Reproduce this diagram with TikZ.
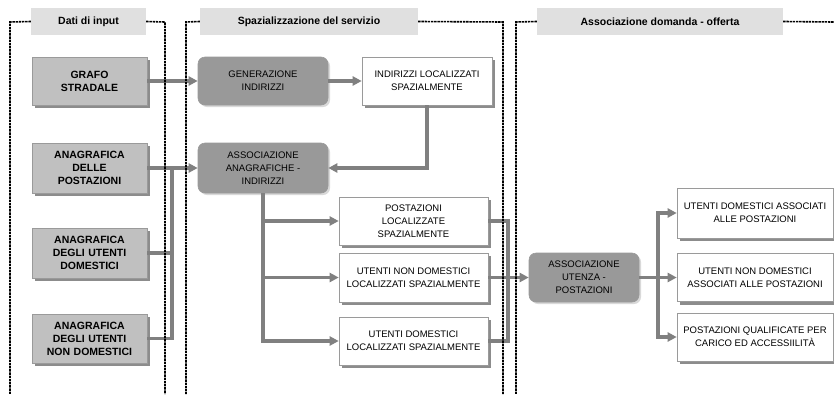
\documentclass[tikz,border=0pt]{standalone}
\usepackage{fontspec}
\setmainfont{Liberation Sans}
\usetikzlibrary{arrows.meta,shadows}
\definecolor{conngray}{HTML}{808080}
\definecolor{ingray}{HTML}{C0C0C0}
\definecolor{procgray}{HTML}{999999}
\definecolor{titlegray}{HTML}{E0E0E0}
\definecolor{shadowgray}{HTML}{8C8C8C}
\definecolor{bordergray}{HTML}{9A9A9A}
\tikzset{
  frameline/.style={draw=black, line width=1.6pt, dash pattern=on 2.4pt off 0.8pt},
  titlebox/.style={fill=titlegray, inner sep=0pt, font=\fontsize{10.5}{13}\selectfont\bfseries},
  inbox/.style={draw=bordergray, line width=0.6pt, fill=ingray, inner sep=2pt, align=center,
    minimum width=115pt, text width=110pt,
    font=\fontsize{10.5}{13}\selectfont\bfseries,
    drop shadow={shadow xshift=3pt, shadow yshift=-3pt, fill=shadowgray, opacity=1}},
  procbox/.style={draw=bordergray, line width=0.6pt, fill=procgray, rounded corners=7pt, inner sep=2pt, align=center,
    font=\fontsize{9.5}{13}\selectfont,
    drop shadow={shadow xshift=2pt, shadow yshift=-2pt, fill=black!15, opacity=1}},
  outbox/.style={draw=bordergray, line width=0.6pt, fill=white, inner sep=2pt, align=center,
    font=\fontsize{9.5}{13}\selectfont,
    drop shadow={shadow xshift=3pt, shadow yshift=-3pt, fill=shadowgray, opacity=1}},
  conn/.style={draw=conngray, line width=3.2pt, -{Triangle[length=9pt,width=9pt]}},
  plainconn/.style={draw=conngray, line width=3.2pt},
}
\begin{document}
\begin{tikzpicture}[x=1pt,y=-1pt]
\useasboundingbox (0,0) rectangle (834,394);

% title boxes
\node[titlebox, minimum width=115pt, minimum height=27pt] (t1) at (88.5,21.5) {Dati di input};
\node[titlebox, minimum width=218pt, minimum height=27pt] (t2) at (309,21.5) {Spazializzazione del servizio};
\node[titlebox, minimum width=246pt, minimum height=27pt] (t3) at (660,21.5) {Associazione domanda - offerta};

% input boxes
\node[inbox, minimum height=48pt] (gs) at (89.5,81) {GRAFO\\STRADALE};
\node[inbox, minimum height=50pt] (ap) at (89.5,168) {ANAGRAFICA\\DELLE\\POSTAZIONI};
\node[inbox, minimum height=50pt] (ad) at (89.5,253) {ANAGRAFICA\\DEGLI UTENTI\\DOMESTICI};
\node[inbox, minimum height=49pt] (an) at (89.5,338.5) {ANAGRAFICA\\DEGLI UTENTI\\NON DOMESTICI};

% middle column
\node[procbox, minimum width=130pt, minimum height=48pt] (gi) at (263,81) {GENERAZIONE\\INDIRIZZI};
\node[outbox, minimum width=130pt, minimum height=48pt] (il) at (427,81) {INDIRIZZI LOCALIZZATI\\SPAZIALMENTE};
\node[procbox, minimum width=130pt, minimum height=50pt] (aa) at (263,168) {ASSOCIAZIONE\\ANAGRAFICHE -\\INDIRIZZI};
\node[outbox, minimum width=149pt, minimum height=48pt] (pl) at (413.5,221) {POSTAZIONI\\LOCALIZZATE\\SPAZIALMENTE};
\node[outbox, minimum width=149pt, minimum height=49pt] (unl) at (413.5,277.5) {UTENTI NON DOMESTICI\\LOCALIZZATI SPAZIALMENTE};
\node[outbox, minimum width=149pt, minimum height=48pt] (udl) at (413.5,341) {UTENTI DOMESTICI\\LOCALIZZATI SPAZIALMENTE};

% right column
\node[procbox, minimum width=110pt, minimum height=49pt] (au) at (584,277.5) {ASSOCIAZIONE\\UTENZA -\\POSTAZIONI};
\node[outbox, minimum width=156pt, minimum height=50pt] (r1) at (755,213) {UTENTI DOMESTICI ASSOCIATI\\ALLE POSTAZIONI};
\node[outbox, minimum width=156pt, minimum height=48pt] (r2) at (755,277.5) {UTENTI NON DOMESTICI\\ASSOCIATI ALLE POSTAZIONI};
\node[outbox, minimum width=156pt, minimum height=48pt] (r3) at (755,337) {POSTAZIONI QUALIFICATE PER\\CARICO ED ACCESSIILITÀ};

% bus coordinates
\coordinate (b1) at (172,168);
\coordinate (b2) at (508,277.5);
\coordinate (b3) at (658,277.5);

% connectors
\draw[conn] (gs.east) -- (gi.west);
\draw[conn] (gi.east) -- (il.west);
\draw[conn] (il.south) |- (aa.east);
\draw[conn] (ap.east) -- (aa.west);
\draw[plainconn] (ad.east) -| (b1);
\draw[plainconn] (an.east) -| (b1);
\draw[conn] (aa.south) |- (pl.west);
\draw[conn] (aa.south) |- (unl.west);
\draw[conn] (aa.south) |- (udl.west);
\draw[plainconn] (pl.east) -| (b2);
\draw[plainconn] (udl.east) -| (b2);
\draw[conn] (unl.east) -- (au.west);
\draw[conn] (au.east) -- (r2.west);
\draw[conn] (b3) |- (r1.west);
\draw[conn] (b3) |- (r3.west);

% frames
\coordinate (f1a) at (10,22); \coordinate (f1b) at (10,394);
\coordinate (f1c) at (165,22); \coordinate (f1d) at (165,394);
\draw[frameline] (t1.west) -- (f1a) -- (f1b);
\draw[frameline] (t1.east) -- (f1c) -- (f1d);
\coordinate (f2a) at (186,22); \coordinate (f2b) at (186,394);
\coordinate (f2c) at (503,22); \coordinate (f2d) at (503,394);
\draw[frameline] (t2.west) -- (f2a) -- (f2b);
\draw[frameline] (t2.east) -- (f2c) -- (f2d);
\coordinate (f3a) at (516,22); \coordinate (f3b) at (516,394);
\coordinate (f3c) at (834,22);
\draw[frameline] (t3.west) -- (f3a) -- (f3b);
\draw[frameline] (t3.east) -- (f3c);
\end{tikzpicture}
\end{document}
